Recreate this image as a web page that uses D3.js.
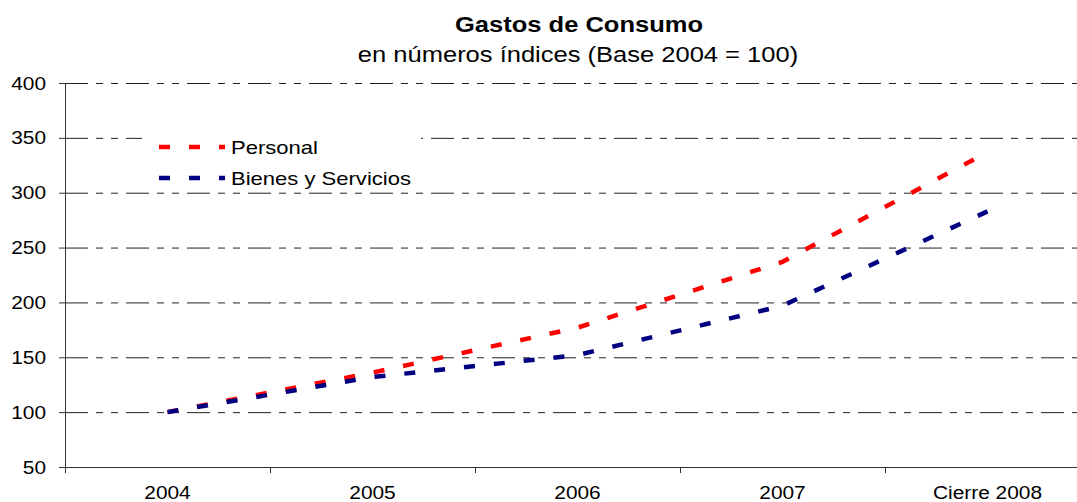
<!DOCTYPE html>
<html>
<head>
<meta charset="utf-8">
<script src="https://cdn.jsdelivr.net/npm/d3@7"></script>
<style>
  body { margin: 0; background: #fff; }
  svg { display: block; font-family: "Liberation Sans", Arial, sans-serif; }
</style>
</head>
<body>
<div id="chart"></div>
<script>
// chart data
var categories = ["2004", "2005", "2006", "2007", "Cierre 2008"];
var personal = [100, 136, 177, 237, 337];
var bienes = [100, 132, 152, 197, 283];
var yTicks = [50, 100, 150, 200, 250, 300, 350, 400];
var seriesNames = ["Personal", "Bienes y Servicios"];
var seriesColors = ["#ff0000", "#000080"];

var width = 1077, height = 502;
var stretch = 1.16; // text in the picture is a bit wider than it is tall

var svg = d3.select('#chart').append('svg')
    .attr("width", width)
    .attr("height", height);

var x = d3.scaleBand()
    .domain(categories)
    .range([65, 1090]);

var y = d3.scaleLinear()
    .domain([50, 400])
    .range([467, 83]);

function label(sel, px, py, txt, size, anchor, weight) {
    return sel.append("text")
        .attr("transform", "translate(" + px + "," + py + ") scale(" + stretch + ",1)")
        .attr("text-anchor", anchor || "middle")
        .style("font-size", size + "px")
        .style("font-weight", weight || "normal")
        .attr("fill", "#000")
        .text(txt);
}

// title
label(svg, 579, 32, "Gastos de Consumo", 22, "middle", "bold");
label(svg, 578, 62, "en números índices (Base 2004 = 100)", 22, "middle");

// gridlines (dash-dot-dot)
svg.append("g").selectAll("line")
    .data(yTicks.filter(d => d > 50))
    .enter().append("line")
    .attr("x1", 65)
    .attr("x2", width)
    .attr("y1", d => y(d) + 0.5)
    .attr("y2", d => y(d) + 0.5)
    .attr("stroke", "#222")
    .attr("stroke-width", 1)
    .attr("stroke-dasharray", "23,8,7,8,7,8");

// y axis
var gy = svg.append("g");
gy.append("line")
    .attr("x1", 65.5).attr("x2", 65.5)
    .attr("y1", y(400)).attr("y2", y(50))
    .attr("stroke", "#333");
gy.selectAll("line.tick")
    .data(yTicks)
    .enter().append("line")
    .attr("class", "tick")
    .attr("x1", 59).attr("x2", 65)
    .attr("y1", d => y(d) + 0.5).attr("y2", d => y(d) + 0.5)
    .attr("stroke", "#333");
yTicks.forEach(function (d) {
    label(gy, 46, y(d) + 6.5, String(d), 18, "end");
});

// x axis
var gx = svg.append("g");
gx.append("line")
    .attr("x1", 65).attr("x2", width)
    .attr("y1", y(50) + 0.5).attr("y2", y(50) + 0.5)
    .attr("stroke", "#333");
var bounds = categories.map(d => x(d)).concat([x.range()[1]]);
gx.selectAll("line.tick")
    .data(bounds)
    .enter().append("line")
    .attr("class", "tick")
    .attr("x1", d => Math.round(d) + 0.5).attr("x2", d => Math.round(d) + 0.5)
    .attr("y1", y(50)).attr("y2", y(50) + 6)
    .attr("stroke", "#333");
categories.forEach(function (c) {
    label(gx, x(c) + x.bandwidth() / 2, 499, c, 18, "middle");
});

// legend box (hides the gridline behind it)
var lg = svg.append("g");
lg.append("rect")
    .attr("x", 142).attr("y", 130)
    .attr("width", 279).attr("height", 58)
    .attr("fill", "#fff");

// series
var line = d3.line()
    .x((d, i) => x(categories[i]) + x.bandwidth() / 2)
    .y(d => y(d));

[personal, bienes].forEach(function (s, i) {
    svg.append("path")
        .datum(s)
        .attr("d", line)
        .attr("fill", "none")
        .attr("stroke", seriesColors[i])
        .attr("stroke-width", 4.5)
        .attr("stroke-dasharray", "11,19");
});

// legend entries
seriesNames.forEach(function (name, i) {
    var ly = 147 + i * 31;
    lg.append("line")
        .attr("x1", 159).attr("x2", 225)
        .attr("y1", ly).attr("y2", ly)
        .attr("stroke", seriesColors[i])
        .attr("stroke-width", 4.5)
        .attr("stroke-dasharray", "11,19");
    label(lg, 231, ly + 7, name, 19, "start");
});
</script>
</body>
</html>
